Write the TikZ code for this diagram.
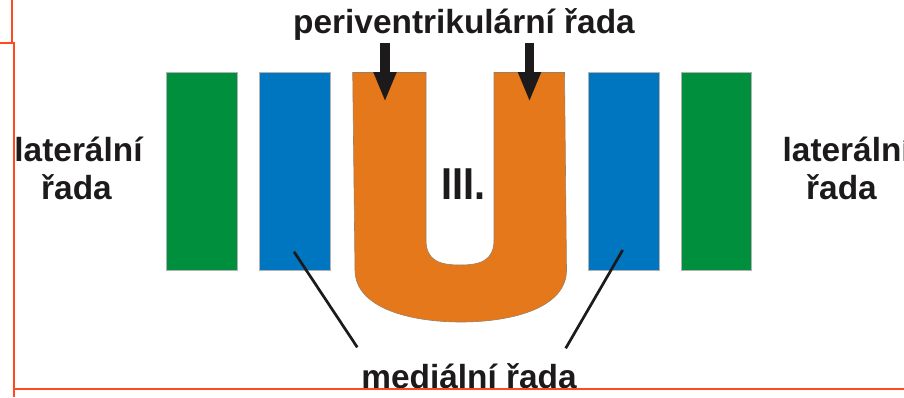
\documentclass[tikz,border=0pt]{standalone}
\usepackage{fontspec}
\setmainfont{Liberation Sans}
\usetikzlibrary{arrows.meta}
\definecolor{rgreen}{RGB}{0,143,61}
\definecolor{rblue}{RGB}{0,118,192}
\definecolor{rorange}{RGB}{229,120,26}
\definecolor{rred}{RGB}{255,74,30}
\definecolor{rtext}{RGB}{28,26,26}
\tikzset{
  bar/.style={draw=gray!60, line width=0.6pt, minimum width=70.5pt, minimum height=198pt, inner sep=0pt},
  lbl/.style={text=rtext, font=\bfseries\fontsize{33.4}{37.6}\selectfont, inner sep=0pt, anchor=base},
  leader/.style={draw=rtext, line width=2.7pt},
  pointer/.style={draw=rtext, line width=9.5pt, -{Triangle[length=30pt,width=21pt]}},
  frameline/.style={draw=rred, line width=2pt}
}
\begin{document}
\begin{tikzpicture}[x=1pt,y=-1pt]
\useasboundingbox (0,0) rectangle (904,397);
% bars
\node[bar, fill=rgreen] (gL) at (201.7,171) {};
\node[bar, fill=rblue]  (bL) at (294.7,171) {};
\node[bar, fill=rblue]  (bR) at (623.7,171) {};
\node[bar, fill=rgreen] (gR) at (716.2,171) {};
% U shape
\path[fill=rorange, draw=gray!70!rorange, line width=0.6pt]
  (352.7,72.5) -- (426,72.5) -- (426,240)
  .. controls (426,261) and (440,265) .. (460,265)
  .. controls (480,265) and (494,261) .. (494,240)
  -- (494,72.5) -- (564.5,72.5) -- (566.5,270)
  .. controls (566.5,308) and (512,322) .. (461,322)
  .. controls (410,322) and (355,308) .. (355,270) -- cycle;
\node[font=\bfseries\fontsize{44.7}{50}\selectfont, text=rtext, inner sep=0pt, anchor=base, xscale=0.885] (III) at (463.7,199) {III.};
% labels
\node[lbl] (peri) at (464,33) {periventrikulární řada};
\node[lbl] (med) at (469,388) {mediální řada};
\node[lbl] (latL1) at (78.5,161.7) {laterální};
\node[lbl] (latL2) at (76.5,199.3) {řada};
\node[lbl] (latR1) at (846.7,161.7) {laterální};
\node[lbl] (latR2) at (841.5,199.3) {řada};
% arrows
\coordinate (pL) at (385,43);
\coordinate (pR) at (529.5,43);
\coordinate (uL) at (385,102);
\coordinate (uR) at (529.5,102);
\draw[pointer] (pL) -- (uL);
\draw[pointer] (pR) -- (uR);
% leader lines
\coordinate (mL) at (357.3,347.3);
\coordinate (mR) at (565.7,348.3);
\coordinate (bLp) at (294,251.7);
\coordinate (bRp) at (622.7,250);
\draw[leader] (mL) -- (bLp);
\draw[leader] (mR) -- (bRp);
% frame lines
\coordinate (f1) at (12,0);
\coordinate (f2) at (12,43);
\coordinate (f3) at (0,43);
\coordinate (f4) at (14,43);
\coordinate (f5) at (14,397);
\coordinate (f6) at (13,389);
\coordinate (f7) at (904,389);
\draw[frameline] (f1) -- (f2);
\draw[frameline] (f3) -- (f4) -- (f5);
\draw[frameline] (f6) -- (f7);
\end{tikzpicture}
\end{document}
